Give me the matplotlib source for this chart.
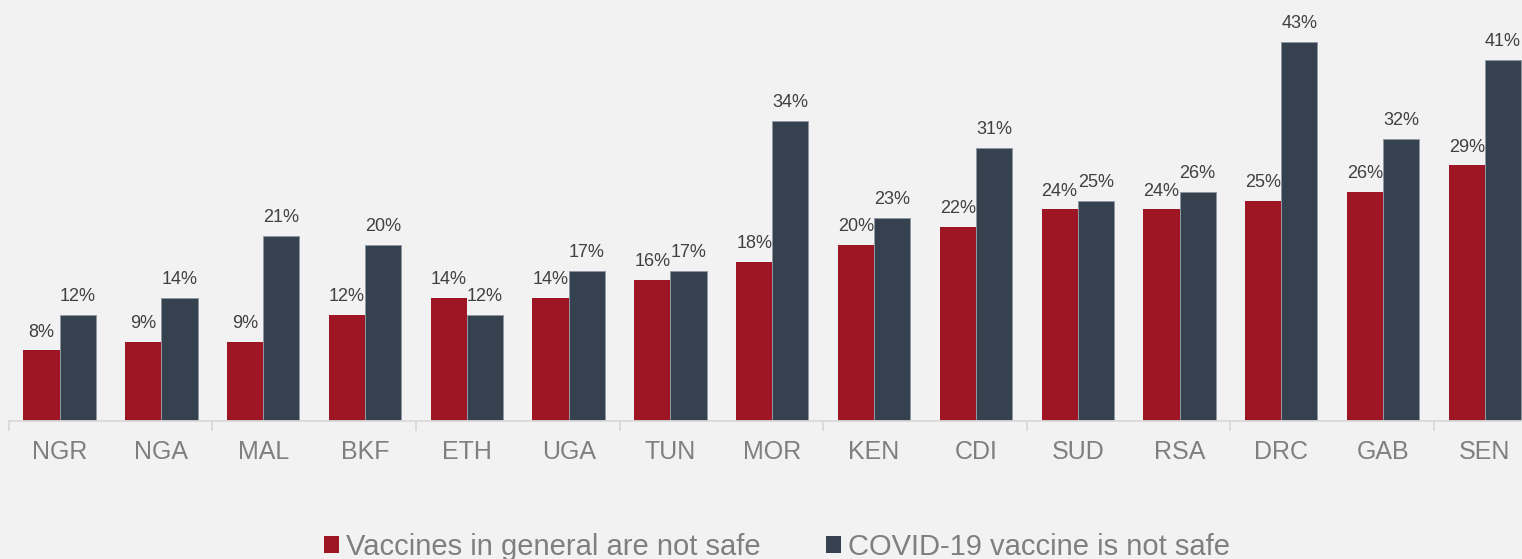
import numpy as np
import matplotlib
matplotlib.use("Agg")
import matplotlib.pyplot as plt
from matplotlib.patches import Patch

# data
countries = ["NGR", "NGA", "MAL", "BKF", "ETH", "UGA", "TUN", "MOR",
             "KEN", "CDI", "SUD", "RSA", "DRC", "GAB", "SEN"]
general_not_safe = [8, 9, 9, 12, 14, 14, 16, 18, 20, 22, 24, 24, 25, 26, 29]
covid_not_safe = [12, 14, 21, 20, 12, 17, 17, 34, 23, 31, 25, 26, 43, 32, 41]
series_names = ["Vaccines in general are not safe", "COVID-19 vaccine is not safe"]

RED = "#9e1623"
SLATE = "#36414f"
BG = "#f2f2f2"

plt.rcParams["font.family"] = ["Liberation Sans", "DejaVu Sans"]

fig = plt.figure(figsize=(15.22, 5.59), dpi=100, facecolor=BG)
ax = fig.add_axes([0.0057, 0.2469, 0.9943, 0.7531])
ax.set_facecolor(BG)

x = np.arange(len(countries))
w = 0.355
b1 = ax.bar(x - w / 2, general_not_safe, w, color=RED, linewidth=0)
b2 = ax.bar(x + w / 2, covid_not_safe, w, color=SLATE,
            edgecolor="#8f98a3", linewidth=0.7)

for bars, vals in ((b1, general_not_safe), (b2, covid_not_safe)):
    for rect, v in zip(bars, vals):
        ax.annotate(f"{v}%", (rect.get_x() + rect.get_width() / 2, rect.get_height()),
                    xytext=(0, 10), textcoords="offset points",
                    ha="center", va="baseline", fontsize=13, color="#404040")

ax.set_xlim(-0.5, 14.364)
ax.set_ylim(0, 47.77)

for s in ("top", "right", "left"):
    ax.spines[s].set_visible(False)
ax.spines["bottom"].set_color("#d9d9d9")
ax.spines["bottom"].set_linewidth(1.3)

ax.set_yticks([])
# boundary ticks every two categories, labels on minor ticks
ax.set_xticks(np.arange(-0.5, 14, 2))
ax.set_xticklabels([])
ax.tick_params(axis="x", which="major", length=7.5, width=1.3, color="#d9d9d9")
ax.set_xticks(x, minor=True)
ax.set_xticklabels(countries, minor=True)
ax.tick_params(axis="x", which="minor", length=0, pad=14, labelsize=18,
               labelcolor="#7f7f7f")

handles = [Patch(facecolor=RED, label=series_names[0]),
           Patch(facecolor=SLATE, label=series_names[1])]
fig.legend(handles=handles, loc="center", bbox_to_anchor=(0.5105, 0.022),
           ncol=2, frameon=False, fontsize=21, labelcolor="#7f7f7f",
           handlelength=0.52, handleheight=0.52, handletextpad=0.24,
           columnspacing=2.26, borderpad=0, borderaxespad=0)

fig.savefig("out.png", dpi=100, facecolor=BG)
